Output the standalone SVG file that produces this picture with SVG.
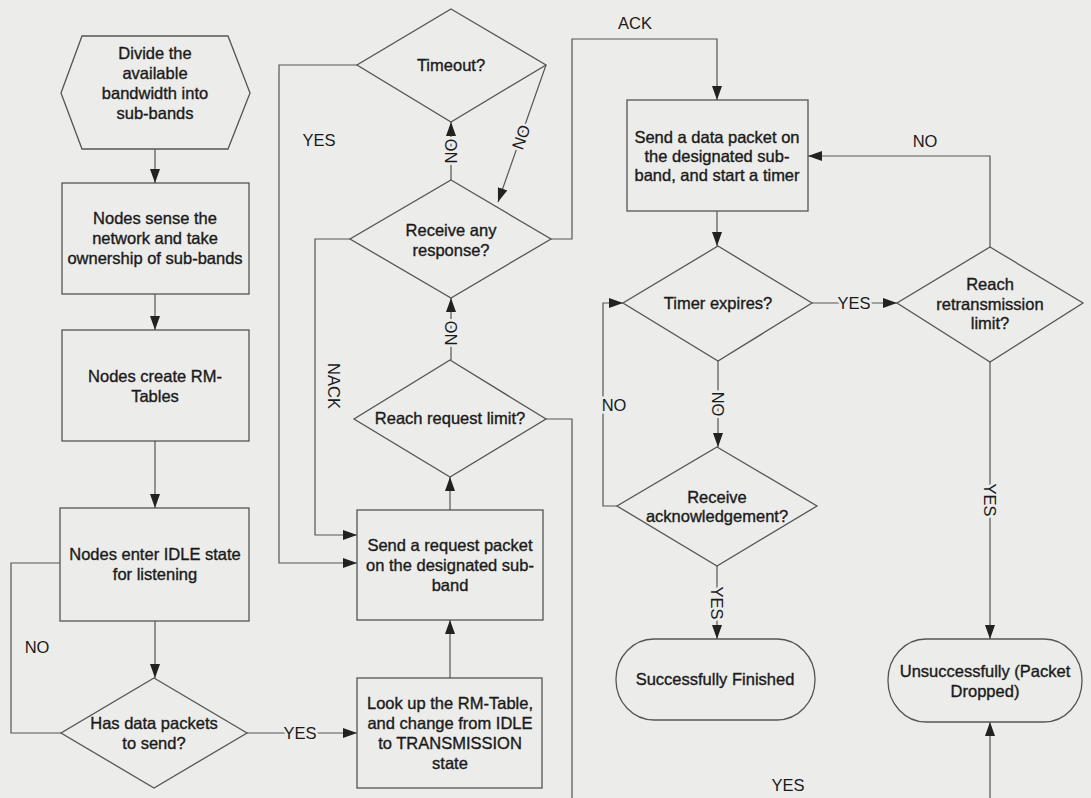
<svg xmlns="http://www.w3.org/2000/svg" width="1091" height="798" viewBox="0 0 1091 798">
<defs>
<marker id="ah" markerWidth="14" markerHeight="10" refX="14" refY="5" orient="auto" markerUnits="userSpaceOnUse">
<path d="M0,0 L14,5 L0,10 z" fill="#222"/>
</marker>
<style>
.bg{fill:#ececea}
.shape{fill:none;stroke:#555;stroke-width:1.3}
.t{font-family:"Liberation Sans",Arial,sans-serif;font-size:16.5px;fill:#1a1a1a;stroke:#1a1a1a;stroke-width:0.35;text-anchor:middle}
.lbl{font-family:"Liberation Sans",Arial,sans-serif;font-size:16.5px;fill:#1a1a1a;text-anchor:middle;dominant-baseline:central;stroke:#ececea;stroke-width:5;paint-order:stroke}
.c{fill:none;stroke:#555;stroke-width:1.2}
.ca{fill:none;stroke:#555;stroke-width:1.2;marker-end:url(#ah)}
</style>
</defs>
<rect class="bg" x="0" y="0" width="1091" height="798"/>

<g id="connectors">
<path class="ca" d="M155,149 V183"/>
<path class="ca" d="M155,294 V330"/>
<path class="ca" d="M155,441 V508"/>
<path class="ca" d="M155,621 V678"/>
<path class="c" d="M61,733 H11 V563 H60"/>
<path class="ca" d="M247,733 H357"/>
<path class="ca" d="M450,678 V620"/>
<path class="ca" d="M450,510 V477"/>
<path class="ca" d="M451,360 V298"/>
<path class="ca" d="M451,180 V122"/>
<path class="ca" d="M546,65 L498,202"/>
<path class="ca" d="M357,65 H279 V563 H357"/>
<path class="ca" d="M350,239 H315 V535 H357"/>
<path class="ca" d="M551,239 H572 V39 H717 V100"/>
<path class="ca" d="M546,419 H572 V812 H990 V722"/>
<path class="ca" d="M717,211 V246"/>
<path class="ca" d="M812,303 H897"/>
<path class="ca" d="M990,247 V156 H808"/>
<path class="ca" d="M990,362 V639"/>
<path class="ca" d="M718,361 V447"/>
<path class="ca" d="M617,506 H603 V303 H623"/>
<path class="ca" d="M717,566 V639"/>

<text class="lbl" x="37" y="647">NO</text>
<text class="lbl" x="300" y="733">YES</text>
<text class="lbl" x="319" y="140">YES</text>
<text class="lbl" transform="translate(334,386) rotate(90)">NACK</text>
<text class="lbl" transform="translate(451,333) rotate(-90)">NO</text>
<text class="lbl" transform="translate(451,151) rotate(-90)">NO</text>
<text class="lbl" transform="translate(521,137) rotate(-70.7)">NO</text>
<text class="lbl" x="635" y="23">ACK</text>
<text class="lbl" x="854" y="303">YES</text>
<text class="lbl" x="925" y="141">NO</text>
<text class="lbl" transform="translate(990,500) rotate(90)">YES</text>
<text class="lbl" transform="translate(718,404) rotate(90)">NO</text>
<text class="lbl" x="614" y="405">NO</text>
<text class="lbl" transform="translate(717,603) rotate(90)">YES</text>
<text class="lbl" x="788" y="785">YES</text>
</g>

<g id="n_divide">
<polygon class="shape" points="82,36 228,36 250,93 228,149 82,149 61,93"/>
<text class="t" x="155" y="59">Divide the</text>
<text class="t" x="155" y="79">available</text>
<text class="t" x="155" y="99">bandwidth into</text>
<text class="t" x="155" y="119">sub-bands</text>
</g>

<g id="n_sense">
<rect class="shape" x="62" y="183" width="187" height="111"/>
<text class="t" x="155" y="224">Nodes sense the</text>
<text class="t" x="155" y="244">network and take</text>
<text class="t" x="155" y="264">ownership of sub-bands</text>
</g>

<g id="n_create">
<rect class="shape" x="62" y="330" width="187" height="111"/>
<text class="t" x="155" y="382">Nodes create RM-</text>
<text class="t" x="155" y="402">Tables</text>
</g>

<g id="n_idle">
<rect class="shape" x="60" y="508" width="189" height="113"/>
<text class="t" x="155" y="560">Nodes enter IDLE state</text>
<text class="t" x="155" y="580">for listening</text>
</g>

<g id="n_hasdata">
<polygon class="shape" points="154,678 247,733 154,788 61,733"/>
<text class="t" x="154" y="729">Has data packets</text>
<text class="t" x="154" y="749">to send?</text>
</g>

<g id="n_lookup">
<rect class="shape" x="357" y="678" width="185" height="110"/>
<text class="t" x="450" y="709">Look up the RM-Table,</text>
<text class="t" x="450" y="729">and change from IDLE</text>
<text class="t" x="450" y="749">to TRANSMISSION</text>
<text class="t" x="450" y="769">state</text>
</g>

<g id="n_sendreq">
<rect class="shape" x="357" y="510" width="186" height="110"/>
<text class="t" x="450" y="551">Send a request packet</text>
<text class="t" x="450" y="571">on the designated sub-</text>
<text class="t" x="450" y="591">band</text>
</g>

<g id="n_reqlimit">
<polygon class="shape" points="450,360 546,419 450,477 354,419"/>
<text class="t" x="450" y="424">Reach request limit?</text>
</g>

<g id="n_response">
<polygon class="shape" points="451,180 551,239 451,298 350,239"/>
<text class="t" x="451" y="236">Receive any</text>
<text class="t" x="451" y="256">response?</text>
</g>

<g id="n_timeout">
<polygon class="shape" points="451,9 546,65 451,122 357,65"/>
<text class="t" x="451" y="71">Timeout?</text>
</g>

<g id="n_senddata">
<rect class="shape" x="627" y="100" width="181" height="111"/>
<text class="t" x="717" y="143">Send a data packet on</text>
<text class="t" x="717" y="162">the designated sub-</text>
<text class="t" x="717" y="181">band, and start a timer</text>
</g>

<g id="n_timer">
<polygon class="shape" points="718,246 812,303 718,361 623,303"/>
<text class="t" x="718" y="309">Timer expires?</text>
</g>

<g id="n_retrans">
<polygon class="shape" points="990,247 1083,303 990,362 897,303"/>
<text class="t" x="990" y="290">Reach</text>
<text class="t" x="990" y="310">retransmission</text>
<text class="t" x="990" y="329">limit?</text>
</g>

<g id="n_ack">
<polygon class="shape" points="717,447 817,506 717,566 617,506"/>
<text class="t" x="717" y="503">Receive</text>
<text class="t" x="717" y="522">acknowledgement?</text>
</g>

<g id="n_success">
<rect class="shape" x="616" y="639" width="199" height="81" rx="38" ry="40"/>
<text class="t" x="715" y="685">Successfully Finished</text>
</g>

<g id="n_fail">
<rect class="shape" x="888" y="639" width="194" height="83" rx="38" ry="41"/>
<text class="t" x="985" y="677">Unsuccessfully (Packet</text>
<text class="t" x="985" y="697">Dropped)</text>
</g>
</svg>
